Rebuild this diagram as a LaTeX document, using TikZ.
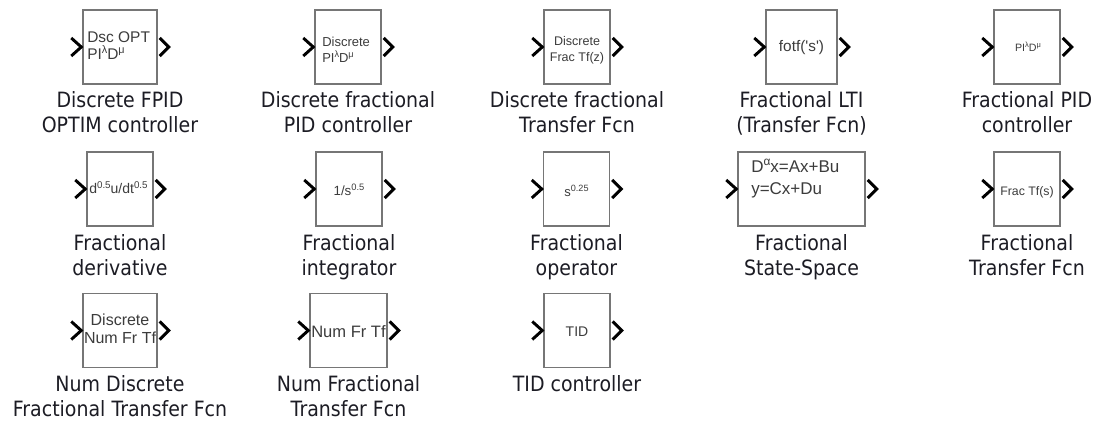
\documentclass[tikz,border=0pt]{standalone}
\usepackage{fontspec}
\setmainfont{DejaVu Sans}[FakeStretch=0.9]
\newfontfamily\iconfont{Liberation Sans}
\usepackage{graphicx}
\usetikzlibrary{calc}

\definecolor{frame}{RGB}{118,118,118}
\definecolor{icontext}{RGB}{60,60,60}
\definecolor{caption}{RGB}{28,28,36}

% raised, reduced exponent for the block icons
\newcommand\supx[1]{\raisebox{0.42em}{\scalebox{0.7}{#1}}}

\tikzset{
  blk/.style={draw=frame, line width=1.1pt, fill=white, inner sep=0pt, minimum height=55.5pt},
  portline/.style={line width=2.2pt, black, line join=miter},
  blklabel/.style={font=\fontsize{15.8}{19}\selectfont, text=caption, anchor=base, inner sep=0pt},
  ico/.style={font=\iconfont\fontsize{#1}{#1}\selectfont, text=icontext, inner sep=0pt, anchor=base},
}

% input and output port chevrons of a block
\newcommand\blockports[1]{%
  \draw[portline] ($(#1.west)+(-11,-9)$) -- ($(#1.west)+(-1,0)$) -- ($(#1.west)+(-11,9)$);
  \draw[portline] ($(#1.east)+(2,-9)$) -- ($(#1.east)+(11,0)$) -- ($(#1.east)+(2,9)$);
}

\begin{document}
\begin{tikzpicture}[x=0.75pt,y=-0.75pt]
\fill[white] (0,0) rectangle (1107,423);
\useasboundingbox (0,0) rectangle (1107,423);

% ---------------- first row ----------------
\node[blk, minimum width=55.5pt] (fpidopt) at (120,47) {};
\node[ico=11.6, anchor=base west] (fpidoptA) at (87,43) {Dsc OPT};
\node[ico=11.6, anchor=base west] (fpidoptB) at (87,60) {PI\supx{λ}D\supx{μ}};
\blockports{fpidopt}
\node[blklabel] (fpidoptL1) at (120,108) {Discrete FPID};
\node[blklabel] (fpidoptL2) at (120,133) {OPTIM controller};

\node[blk, minimum width=49.5pt] (dfpid) at (348,47) {};
\node[ico=9.75, anchor=base west] (dfpidA) at (322,47) {Discrete};
\node[ico=9.75, anchor=base west] (dfpidB) at (322,63) {PI\supx{λ}D\supx{μ}};
\blockports{dfpid}
\node[blklabel] (dfpidL1) at (348,108) {Discrete fractional};
\node[blklabel] (dfpidL2) at (348,133) {PID controller};

\node[blk, minimum width=49.5pt] (dftf) at (577,47) {};
\node[ico=9.4] (dftfA) at (577,46) {Discrete};
\node[ico=9.4] (dftfB) at (577,62) {Frac Tf(z)};
\blockports{dftf}
\node[blklabel] (dftfL1) at (577,108) {Discrete fractional};
\node[blklabel] (dftfL2) at (577,133) {Transfer Fcn};

\node[blk, minimum width=53.25pt] (flti) at (801.5,47) {};
\node[ico=11.5] (fltiA) at (801.5,52) {fotf('s')};
\blockports{flti}
\node[blklabel] (fltiL1) at (801.5,108) {Fractional LTI};
\node[blklabel] (fltiL2) at (801.5,133) {(Transfer Fcn)};

\node[blk, minimum width=49.5pt] (fpid) at (1027,47) {};
\node[ico=8] (fpidA) at (1028,52) {PI\supx{λ}D\supx{μ}};
\blockports{fpid}
\node[blklabel] (fpidL1) at (1027,108) {Fractional PID};
\node[blklabel] (fpidL2) at (1027,133) {controller};

% ---------------- second row ----------------
\node[blk, minimum width=49.5pt] (fder) at (120,189) {};
\node[ico=10.5, anchor=base west] (fderA) at (89,194) {d\supx{0.5}u/dt\supx{0.5}};
\blockports{fder}
\node[blklabel] (fderL1) at (120,251) {Fractional};
\node[blklabel] (fderL2) at (120,276) {derivative};

\node[blk, minimum width=49.5pt] (fint) at (349,189) {};
\node[ico=10] (fintA) at (349,196) {1/s\supx{0.5}};
\blockports{fint}
\node[blklabel] (fintL1) at (349,251) {Fractional};
\node[blklabel] (fintL2) at (349,276) {integrator};

\node[blk, minimum width=49.5pt] (fop) at (576.5,189) {};
\node[ico=9.75] (fopA) at (576.5,197) {s\supx{0.25}};
\blockports{fop}
\node[blklabel] (fopL1) at (576.5,251) {Fractional};
\node[blklabel] (fopL2) at (576.5,276) {operator};

\node[blk, minimum width=95.25pt] (fss) at (801.5,189) {};
\node[ico=12.75, anchor=base west] (fssA) at (751,173) {D\supx{α}x=Ax+Bu};
\node[ico=12.75, anchor=base west] (fssB) at (751,195) {y=Cx+Du};
\blockports{fss}
\node[blklabel] (fssL1) at (801.5,251) {Fractional};
\node[blklabel] (fssL2) at (801.5,276) {State-Space};

\node[blk, minimum width=49.5pt] (ftf) at (1027,189) {};
\node[ico=9.25] (ftfA) at (1027,196) {Frac Tf(s)};
\blockports{ftf}
\node[blklabel] (ftfL1) at (1027,251) {Fractional};
\node[blklabel] (ftfL2) at (1027,276) {Transfer Fcn};

% ---------------- third row ----------------
\node[blk, minimum width=55.5pt] (ndftf) at (120,330.5) {};
\node[ico=12] (ndftfA) at (120,326) {Discrete};
\node[ico=12] (ndftfB) at (120,344) {Num Fr Tf};
\blockports{ndftf}
\node[blklabel] (ndftfL1) at (120,392) {Num Discrete};
\node[blklabel] (ndftfL2) at (120,417) {Fractional Transfer Fcn};

\node[blk, minimum width=57.75pt] (nftf) at (348.5,330.5) {};
\node[ico=12.4] (nftfA) at (348.5,338) {Num Fr Tf};
\blockports{nftf}
\node[blklabel] (nftfL1) at (348.5,392) {Num Fractional};
\node[blklabel] (nftfL2) at (348.5,417) {Transfer Fcn};

\node[blk, minimum width=49.5pt] (tid) at (577,330.5) {};
\node[ico=10.5] (tidA) at (577,337) {TID};
\blockports{tid}
\node[blklabel] (tidL1) at (577,392) {TID controller};
\end{tikzpicture}
\end{document}
